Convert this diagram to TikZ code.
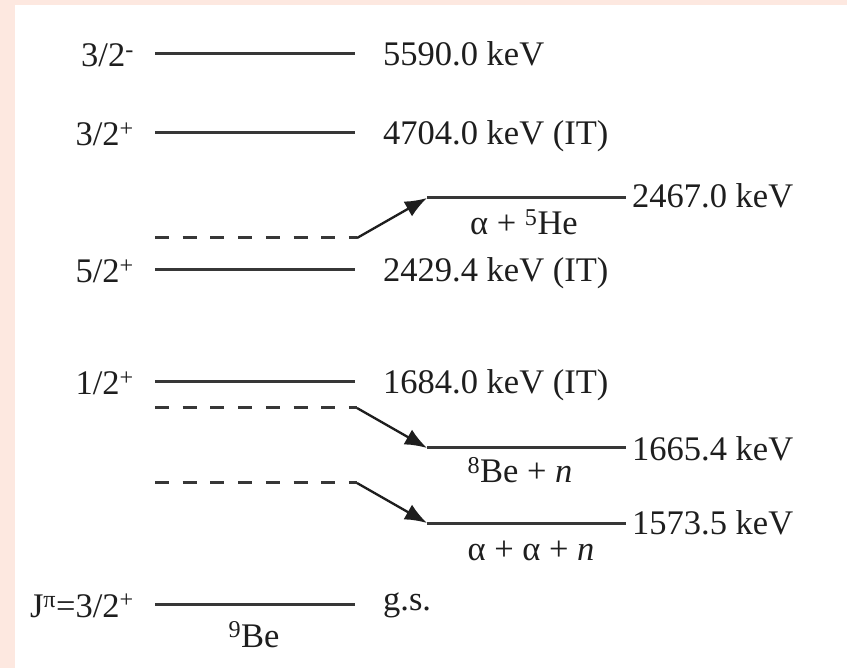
\documentclass[tikz,border=0pt]{standalone}
\usepackage{fontspec}
\setmainfont{Liberation Serif}
\usetikzlibrary{arrows.meta}
\definecolor{pinkbg}{RGB}{253,232,224}
\definecolor{ink}{RGB}{30,30,30}
\definecolor{lvlc}{RGB}{55,55,55}
\begin{document}
\begin{tikzpicture}[x=1pt,y=-1pt,
  lab/.style={inner sep=0pt,text=ink,font=\fontsize{34.5}{40}\selectfont},
  lvl/.style={draw=lvlc,line width=3pt},
  dlvl/.style={draw=lvlc,line width=3pt,dash pattern=on 14pt off 13.7pt},
  decay/.style={draw=ink,line width=2.3pt,-{Latex[length=22pt,width=17pt]}}]
\useasboundingbox (0,0) rectangle (847,668);
\fill[pinkbg] (0,0) rectangle (847,668);
\fill[white] (15,5) rectangle (847,668);
% 9Be levels
\coordinate (a1) at (155,54);  \coordinate (b1) at (355,54);
\coordinate (a2) at (155,133); \coordinate (b2) at (355,133);
\coordinate (a3) at (155,270); \coordinate (b3) at (355,270);
\coordinate (a4) at (155,382); \coordinate (b4) at (355,382);
\coordinate (a5) at (155,604); \coordinate (b5) at (355,604);
\draw[lvl] (a1) -- (b1);
\draw[lvl] (a2) -- (b2);
\draw[lvl] (a3) -- (b3);
\draw[lvl] (a4) -- (b4);
\draw[lvl] (a5) -- (b5);
% dashed thresholds
\coordinate (d1a) at (155,238); \coordinate (d1b) at (357,238);
\coordinate (d2a) at (155,408); \coordinate (d2b) at (357,408);
\coordinate (d3a) at (155,483); \coordinate (d3b) at (357,483);
\draw[dlvl] (d1a) -- (d1b);
\draw[dlvl] (d2a) -- (d2b);
\draw[dlvl] (d3a) -- (d3b);
% threshold levels
\coordinate (t1a) at (427,198); \coordinate (t1b) at (626,198);
\coordinate (t2a) at (427,448); \coordinate (t2b) at (626,448);
\coordinate (t3a) at (427,523); \coordinate (t3b) at (626,523);
\draw[lvl] (t1a) -- (t1b);
\draw[lvl] (t2a) -- (t2b);
\draw[lvl] (t3a) -- (t3b);
% arrows
\draw[decay] (d1b) -- (t1a);
\draw[decay] (d2b) -- (t2a);
\draw[decay] (d3b) -- (t3a);
% spin labels
\node[lab,anchor=base east] (s1) at (134,67) {3/2\textsuperscript{-}};
\node[lab,anchor=base east] (s2) at (134,146) {3/2\textsuperscript{+}};
\node[lab,anchor=base east] (s3) at (134,283) {5/2\textsuperscript{+}};
\node[lab,anchor=base east] (s4) at (134,395) {1/2\textsuperscript{+}};
\node[lab,anchor=base east] (s5) at (134,617) {J\textsuperscript{π}=3/2\textsuperscript{+}};
% energy labels
\node[lab,anchor=base west] (e1) at (383,66) {5590.0 keV};
\node[lab,anchor=base west] (e2) at (383,145) {4704.0 keV (IT)};
\node[lab,anchor=base west] (e3) at (383,282) {2429.4 keV (IT)};
\node[lab,anchor=base west] (e4) at (383,394) {1684.0 keV (IT)};
\node[lab,anchor=base west] (e5) at (383,610) {g.s.};
\node[lab,anchor=base west] (f1) at (632,208) {2467.0 keV};
\node[lab,anchor=base west] (f2) at (632,461) {1665.4 keV};
\node[lab,anchor=base west] (f3) at (632,534) {1573.5 keV};
% channel labels
\node[lab,anchor=base] (c1) at (524,235) {α + \textsuperscript{5}He};
\node[lab,anchor=base] (c2) at (520,483) {\textsuperscript{8}Be + \textit{n}};
\node[lab,anchor=base] (c3) at (531,560) {α + α + \textit{n}};
\node[lab,anchor=base] (c4) at (254,647) {\textsuperscript{9}Be};
\end{tikzpicture}
\end{document}
